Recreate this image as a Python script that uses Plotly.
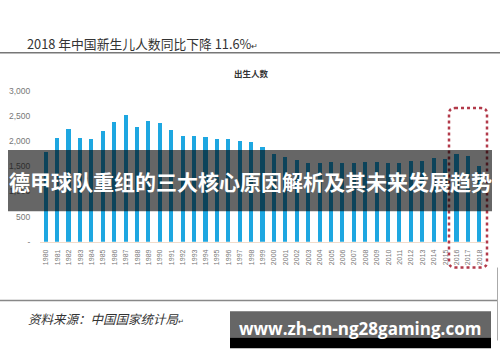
import plotly.graph_objects as go

# Data (births, 万人)
years = list(range(1980, 2019))
births = [1787, 2069, 2245, 2062, 2056, 2204, 2390, 2525, 2290, 2409,
          2371, 2236, 2100, 2114, 2081, 2045, 2045, 2017, 1979, 1882,
          1753, 1689, 1637, 1573, 1573, 1592, 1562, 1575, 1592, 1591,
          1562, 1573, 1612, 1614, 1663, 1644, 1753, 1702, 1509]
year_labels = [str(y) for y in years]
y_tickvals = [0, 500, 1000, 1500, 2000, 2500, 3000]
y_ticktext = ["-", "500", "1,000", "1,500", "2,000", "2,500", "3,000"]

W, H = 500, 362
def px(x):
    return x / W
def py(y):
    return 1 - y / H

fig = go.Figure()
fig.add_trace(go.Bar(x=years, y=births, width=0.36,
                     marker=dict(color="#1ea7e1", line=dict(width=0))))

x_left, x_right = 40.3, 485.3
y_top, y_bot = 88.0, 243.5

shapes = []
# document lines
shapes.append(dict(type="line", xref="paper", yref="paper", x0=0, x1=1,
                   y0=py(49), y1=py(49), line=dict(color="#777", width=1.5)))
shapes.append(dict(type="line", xref="paper", yref="paper", x0=0, x1=px(497),
                   y0=py(304), y1=py(304), line=dict(color="#888", width=1.5)))
shapes.append(dict(type="line", xref="paper", yref="paper", x0=px(497.5), x1=px(497.5),
                   y0=py(270), y1=py(345), line=dict(color="#aaa", width=1)))

# dotted rounded highlight box
x0, x1, y0, y1, r = 449, 487, 106, 270, 6
def P(x, y):
    return f"{px(x):.5f},{py(y):.5f}"
path = (f"M {P(x0 + r, y0)} L {P(x1 - r, y0)} Q {P(x1, y0)} {P(x1, y0 + r)} "
        f"L {P(x1, y1 - r)} Q {P(x1, y1)} {P(x1 - r, y1)} "
        f"L {P(x0 + r, y1)} Q {P(x0, y1)} {P(x0, y1 - r)} "
        f"L {P(x0, y0 + r)} Q {P(x0, y0)} {P(x0 + r, y0)} Z")
shapes.append(dict(type="path", xref="paper", yref="paper", path=path,
                   line=dict(color="#b23a4a", width=2.5, dash="dot"), layer="above"))

# overlay band
shapes.append(dict(type="rect", xref="paper", yref="paper", x0=px(8), x1=px(492),
                   y0=py(212), y1=py(149), fillcolor="rgba(0,0,0,0.6)",
                   line=dict(width=0), layer="above"))
# watermark box
shapes.append(dict(type="rect", xref="paper", yref="paper", x0=px(230), x1=px(491),
                   y0=py(342), y1=py(315), fillcolor="#666666",
                   line=dict(width=0), layer="above"))
shapes.append(dict(type="rect", xref="paper", yref="paper", x0=px(230), x1=px(491),
                   y0=py(353), y1=py(342), fillcolor="#000000",
                   line=dict(width=0), layer="above"))

annotations = [
    dict(text="2018 年中国新生儿人数同比下降 11.6%<span style='font-size:8px'>↵</span>",
         x=px(25), y=py(40), xref="paper", yref="paper", xanchor="left", yanchor="middle",
         showarrow=False, font=dict(family="Noto Sans CJK SC", size=12.8, color="#333")),
    dict(text="<b>出生人数</b>", x=px(251), y=py(70), xref="paper", yref="paper",
         xanchor="center", yanchor="middle", showarrow=False,
         font=dict(family="Noto Sans CJK SC", size=8.5, color="#333")),
    dict(text="<b>德甲球队重组的三大核心原因解析及其未来发展趋势</b>",
         x=px(250), y=py(181), xref="paper", yref="paper", xanchor="center", yanchor="middle",
         showarrow=False, font=dict(family="Noto Sans CJK SC", size=21, color="white")),
    dict(text="<i>资料来源：中国国家统计局</i><span style='font-size:7px'>↵</span>",
         x=px(26), y=py(322), xref="paper", yref="paper", xanchor="left", yanchor="middle",
         showarrow=False, font=dict(family="Noto Sans CJK SC", size=12.5, color="#333")),
    dict(text="<b>www.zh-cn-ng28gaming.com</b>", x=px(360), y=py(333), xref="paper", yref="paper",
         xanchor="center", yanchor="middle", showarrow=False,
         font=dict(family="Open Sans", size=17, color="white")),
]

fig.update_layout(
    width=W, height=H, margin=dict(l=0, r=0, t=0, b=0),
    paper_bgcolor="white", plot_bgcolor="white",
    showlegend=False, bargap=0,
    shapes=shapes, annotations=annotations,
    xaxis=dict(domain=[px(x_left), px(x_right)], range=[1979.5, 2018.5],
               tickmode="array", tickvals=years, ticktext=year_labels,
               tickangle=-90, tickfont=dict(family="Arial", size=7, color="#777"),
               showgrid=False, zeroline=False, showline=True, linecolor="#f2dccb",
               linewidth=1, ticks="", ticklabelstandoff=4, fixedrange=True),
    yaxis=dict(domain=[py(y_bot), py(y_top)], range=[0, 3000],
               tickmode="array", tickvals=y_tickvals, ticktext=y_ticktext,
               tickfont=dict(family="Arial", size=8.5, color="#777"),
               showgrid=False, zeroline=False, showline=False, ticks="",
               ticklabelstandoff=9, fixedrange=True),
)

fig.write_html("out.html", config={"displayModeBar": False},
               post_script="document.body.style.margin='0';document.body.style.overflow='hidden';")
